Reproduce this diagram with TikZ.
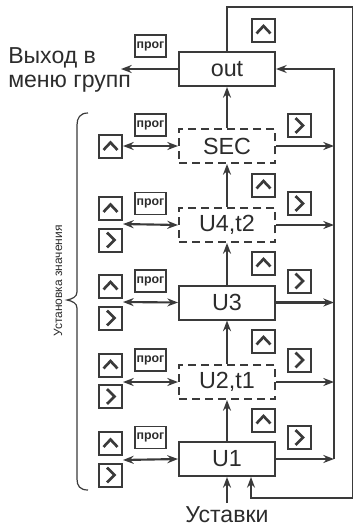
\documentclass[tikz,border=0pt]{standalone}
\usepackage{fontspec}
\setmainfont{Liberation Sans}
\usetikzlibrary{arrows.meta}
\definecolor{lc}{HTML}{3A3A3A}
\definecolor{tc}{HTML}{2C2C2C}
\begin{document}
\begin{tikzpicture}[x=0.75pt,y=-0.75pt,
  stbox/.style={draw=lc, line width=1.5pt, minimum width=72pt, minimum height=25.5pt,
    inner sep=0pt, text=tc, font=\fontsize{17.5}{20}\selectfont},
  dbox/.style={stbox, dash pattern=on 6pt off 3.8pt},
  btn/.style={draw=lc, line width=1.5pt, minimum size=17.25pt, inner sep=0pt},
  upbtn/.style={btn, path picture={\draw[lc, line width=2pt, line join=miter]
    ([shift={(-5.25pt,-2.6pt)}]path picture bounding box.center) --
    ([shift={(0pt,3pt)}]path picture bounding box.center) --
    ([shift={(5.25pt,-2.6pt)}]path picture bounding box.center);}},
  rtbtn/.style={btn, path picture={\draw[lc, line width=2pt, line join=miter]
    ([shift={(-2.6pt,5.5pt)}]path picture bounding box.center) --
    ([shift={(3pt,0pt)}]path picture bounding box.center) --
    ([shift={(-2.6pt,-5.5pt)}]path picture bounding box.center);}},
  progbtn/.style={draw=lc, line width=1.3pt, minimum width=23.25pt, minimum height=16.5pt,
    inner sep=0pt, text=tc, font=\bfseries\fontsize{9.3}{10}\selectfont},
  arr/.style={draw=lc, line width=1.6pt, -{Stealth[length=8pt,width=6pt]}},
  darr/.style={draw=lc, line width=1.6pt, {Stealth[length=8pt,width=6pt]}-{Stealth[length=8pt,width=6pt]}},
  thin/.style={draw=lc, line width=1.1pt},
  thinarr/.style={thin, -{Stealth[length=8pt,width=6pt]}},
  lbl/.style={text=tc, inner sep=0pt, font=\fontsize{17.3}{19}\selectfont}
]
\useasboundingbox (0,0) rectangle (355,525);

% main boxes
\node[stbox] (out) at (227,69) {out};
\node[dbox]  (SEC) at (227,146) {SEC};
\node[dbox]  (U4)  at (227,225) {U4,t2};
\node[stbox] (U3)  at (227,302.5) {U3};
\node[dbox]  (U2)  at (227,382) {U2,t1};
\node[stbox] (U1)  at (227,459) {U1};

% coordinates
\coordinate (rOut) at (334,69);
\coordinate (rSEC) at (334,146);
\coordinate (rU4)  at (334,225);
\coordinate (rU3)  at (334,302.5);
\coordinate (rU2)  at (334,382);
\coordinate (rU1)  at (334,459);
\coordinate (lOut) at (121,69);
\coordinate (lSEC) at (123,146);
\coordinate (lU4)  at (123,224);
\coordinate (lU3)  at (123,302);
\coordinate (lU2)  at (123,382);
\coordinate (lU1)  at (123,460);
\coordinate (lp1) at (227,7);
\coordinate (lp2) at (352.5,7);
\coordinate (lp3) at (352.5,498);
\coordinate (lp4) at (251,498);
\coordinate (ust) at (227,503);

% vertical chain
\draw[arr] (U1.north) -- (U2.south);
\draw[arr] (U2.north) -- (U3.south);
\draw[arr] (U3.north) -- (U4.south);
\draw[arr] (U4.north) -- (SEC.south);
\draw[arr] (SEC.north) -- (out.south);

% right side
\draw[arr] (SEC.east) -- (rSEC);
\draw[arr] (U4.east) -- (rU4);
\draw[arr] (U3.east) -- (rU3);
\draw[arr] (U2.east) -- (rU2);
\draw[arr] (U1.east) -- (rU1);
\draw[thinarr] (rU1) -- (rOut) -- (out.east);

% outer loop
\draw[thinarr] (out.north) -- (lp1) -- (lp2) -- (lp3) -- (lp4) -- (lp4 |- U1.south);

% setpoints input
\draw[arr] (ust) -- (U1.south);
\node[lbl, anchor=base] (ustlbl) at (227,522) {Уставки};

% left side
\draw[arr] (out.west) -- (lOut);
\draw[darr] (lSEC) -- (SEC.west);
\draw[darr] (lU4) -- (U4.west);
\draw[darr] (lU3) -- (U3.west);
\draw[darr] (lU2) -- (U2.west);
\draw[darr] (lU1) -- (U1.west);

% right buttons
\node[upbtn] (ru0) at (263.5,30) {};
\node[upbtn] (ru1) at (263.5,185) {};
\node[upbtn] (ru2) at (263.5,263) {};
\node[upbtn] (ru3) at (263.5,341) {};
\node[upbtn] (ru4) at (263.5,420) {};
\node[rtbtn] (rr1) at (299,125.5) {};
\node[rtbtn] (rr2) at (299,203.5) {};
\node[rtbtn] (rr3) at (299,281) {};
\node[rtbtn] (rr4) at (299,360) {};
\node[rtbtn] (rr5) at (299,437.5) {};

% left buttons
\node[upbtn] (lu1) at (110.5,146.5) {};
\node[upbtn] (lu2) at (110.5,208.5) {};
\node[rtbtn] (lr2) at (110.5,240) {};
\node[upbtn] (lu3) at (110.5,286) {};
\node[rtbtn] (lr3) at (110.5,318) {};
\node[upbtn] (lu4) at (110.5,365) {};
\node[rtbtn] (lr4) at (110.5,396.5) {};
\node[upbtn] (lu5) at (110.5,443.5) {};
\node[rtbtn] (lr5) at (110.5,475) {};

% prog buttons
\node[progbtn] (p0) at (150.5,46) {прог};
\node[progbtn] (p1) at (150.5,125) {прог};
\node[progbtn] (p2) at (150.5,203.5) {прог};
\node[progbtn] (p3) at (150.5,281) {прог};
\node[progbtn] (p4) at (150.5,360) {прог};
\node[progbtn] (p5) at (150.5,437.5) {прог};

% exit text
\node[lbl, anchor=base west] (exit1) at (8,63) {Выход в};
\node[lbl, anchor=base west] (exit2) at (8,87) {меню групп};

% brace
\draw[lc, line width=0.9pt] (88,113) .. controls (80,113) and (77,118) .. (77,125)
  -- (77,292) .. controls (77,297) and (72,299) .. (67,300)
  .. controls (72,301) and (77,303) .. (77,308)
  -- (77,479) .. controls (77,486) and (80,490) .. (88,490);
\node[text=tc, inner sep=0pt, rotate=90, font=\fontsize{9}{10}\selectfont] (brlbl) at (58,281) {Установка значения};
\end{tikzpicture}
\end{document}
